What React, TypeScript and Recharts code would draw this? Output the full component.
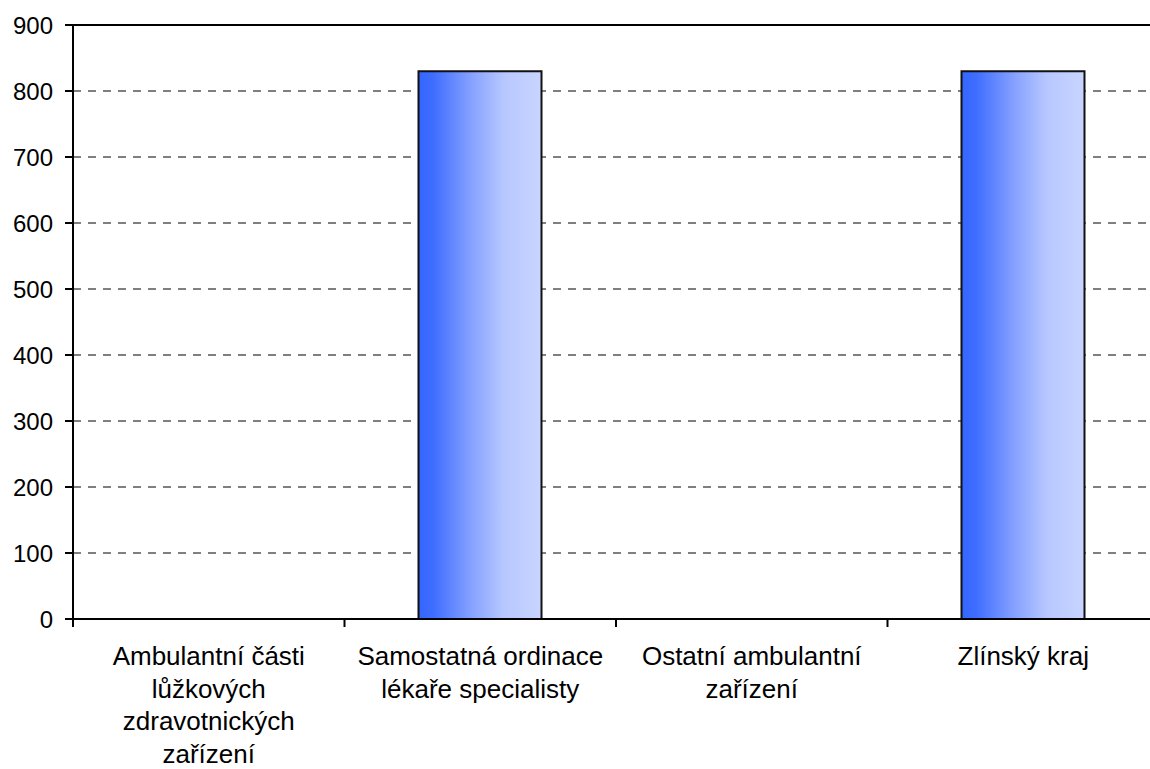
import { Bar, BarChart, CartesianGrid, ReferenceLine, XAxis, YAxis } from "recharts";

const categories = [
  "Ambulantní části\nlůžkových\nzdravotnických\nzařízení",
  "Samostatná ordinace\nlékaře specialisty",
  "Ostatní ambulantní\nzařízení",
  "Zlínský kraj",
];
const values: (number | null)[] = [null, 830, null, 830];
const yTicks = [0, 100, 200, 300, 400, 500, 600, 700, 800, 900];

const data = categories.map((name, i) => ({ name, value: values[i] }));

const CHART_W = 1159;
const Y_AXIS_W = 73;
const BAND = (CHART_W - Y_AXIS_W) / categories.length;
const FONT = "'Liberation Sans', Arial, sans-serif";

function CategoryTick(props: any) {
  const { x, y, payload } = props;
  const lines = String(payload.value).split("\n");
  const left = x - BAND / 2;
  return (
    <g>
      <line x1={left} y1={y - 8} x2={left} y2={y} stroke="#000" strokeWidth={2} />
      <text x={x} y={y + 38} textAnchor="middle" fontSize={26} fontFamily={FONT} fill="#000">
        {lines.map((line, i) => (
          <tspan key={i} x={x} dy={i === 0 ? 0 : 32.5}>
            {line}
          </tspan>
        ))}
      </text>
    </g>
  );
}

export default function App() {
  return (
    <div
      style={{
        position: "fixed",
        left: 0,
        top: 0,
        width: 1150,
        height: 769,
        overflow: "hidden",
        background: "#fff",
      }}
    >
      <BarChart
        width={CHART_W}
        height={769}
        data={data}
        margin={{ top: 25, right: 0, bottom: 0, left: 0 }}
      >
        <defs>
          <linearGradient id="barFill" x1="0" y1="0" x2="1" y2="0">
            <stop offset="0%" stopColor="#3366FF" />
            <stop offset="12%" stopColor="#3F6DFF" />
            <stop offset="45%" stopColor="#8AA4FF" />
            <stop offset="70%" stopColor="#B8C8FF" />
            <stop offset="100%" stopColor="#C8D5FF" />
          </linearGradient>
        </defs>
        <CartesianGrid vertical={false} stroke="#000" strokeDasharray="8 7" />
        <XAxis
          dataKey="name"
          height={150}
          tickSize={8}
          tickMargin={0}
          tickLine={false}
          axisLine={{ stroke: "#000", strokeWidth: 2 }}
          interval={0}
          tick={<CategoryTick />}
        />
        <YAxis
          width={Y_AXIS_W}
          domain={[0, 900]}
          ticks={yTicks}
          interval={0}
          tickSize={8}
          tickMargin={12}
          axisLine={{ stroke: "#000", strokeWidth: 2 }}
          tickLine={{ stroke: "#000", strokeWidth: 2 }}
          tick={{ fontSize: 24, fontFamily: FONT, fill: "#000" }}
        />
        <ReferenceLine y={900} stroke="#000" strokeWidth={2} />
        <Bar
          dataKey="value"
          barSize={123}
          fill="url(#barFill)"
          stroke="#111"
          strokeWidth={2}
          isAnimationActive={false}
        />
      </BarChart>
    </div>
  );
}
